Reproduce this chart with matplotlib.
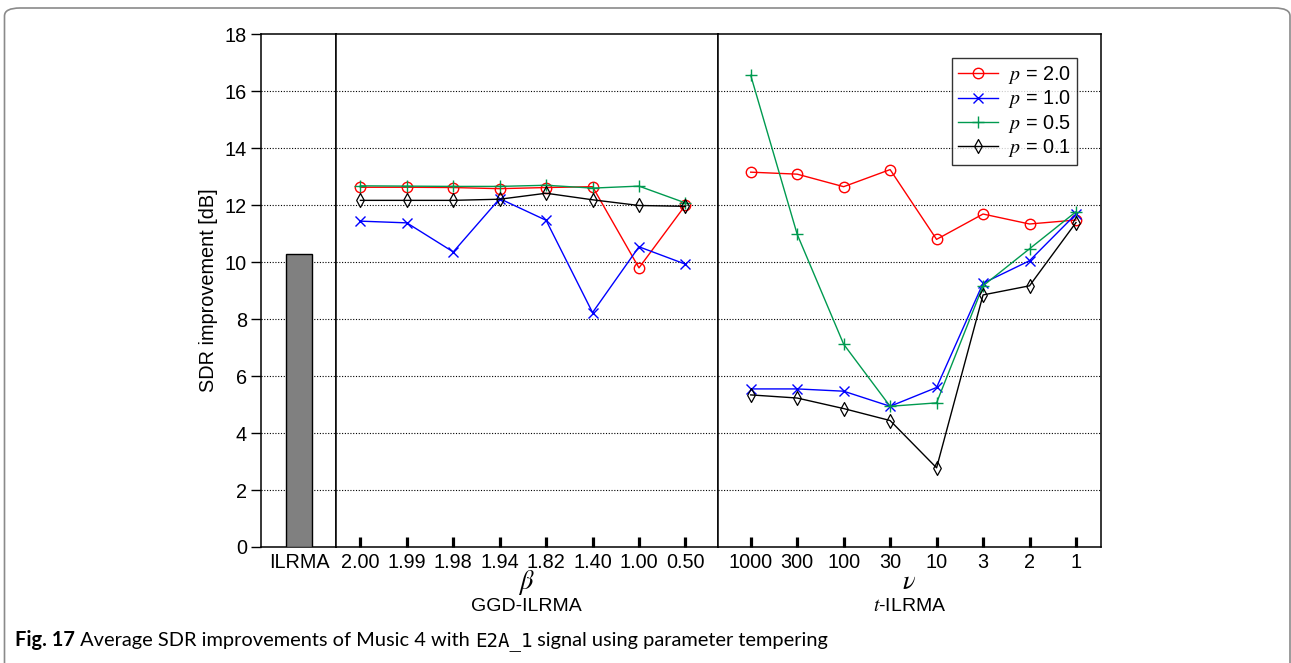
import matplotlib
matplotlib.use("Agg")
import matplotlib.pyplot as plt
from matplotlib.patches import FancyBboxPatch
from matplotlib.path import Path
import numpy as np

plt.rcParams["font.family"] = ["Liberation Sans", "DejaVu Sans"]
plt.rcParams["mathtext.fontset"] = "stix"

# ----------------------------- data -----------------------------
ilrma_label = "ILRMA"
ilrma_value = 10.3

beta_labels = ["2.00", "1.99", "1.98", "1.94", "1.82", "1.40", "1.00", "0.50"]
nu_labels = ["1000", "300", "100", "30", "10", "3", "2", "1"]

p_labels = ["2.0", "1.0", "0.5", "0.1"]

ggd_p20 = [12.63, 12.63, 12.62, 12.58, 12.62, 12.65, 9.80, 12.00]
ggd_p10 = [11.44, 11.38, 10.36, 12.23, 11.47, 8.23, 10.54, 9.93]
ggd_p05 = [12.68, 12.67, 12.66, 12.66, 12.70, 12.60, 12.67, 12.08]
ggd_p01 = [12.17, 12.17, 12.17, 12.21, 12.42, 12.19, 11.99, 11.96]

t_p20 = [13.16, 13.09, 12.65, 13.25, 10.80, 11.69, 11.34, 11.48]
t_p10 = [5.55, 5.55, 5.47, 4.94, 5.60, 9.26, 10.05, 11.69]
t_p05 = [16.56, 10.98, 7.12, 4.94, 5.06, 9.17, 10.47, 11.77]
t_p01 = [5.34, 5.23, 4.86, 4.44, 2.78, 8.85, 9.17, 11.39]

# ----------------------------- styles -----------------------------
thin_diamond = Path([(0, 1), (0.55, 0), (0, -1), (-0.55, 0), (0, 1)],
                    [Path.MOVETO, Path.LINETO, Path.LINETO, Path.LINETO, Path.CLOSEPOLY])
styles = [
    dict(color="#ff0000", marker="o", ms=7.5, mfc="none"),
    dict(color="#0000ff", marker="x", ms=7.5, mew=1.0),
    dict(color="#009a50", marker="+", ms=8.5, mew=1.0),
    dict(color="#000000", marker=thin_diamond, ms=10, mfc="none", mew=0.9),
]

W, H = 1291, 663
fig = plt.figure(figsize=(W / 100, H / 100), dpi=100)

# pixel layout of the three panels
x0, x1, x2, x3 = 260.7, 335.5, 718.0, 1100.7
ytop, ybot = 34.3, 547.0
gs = fig.add_gridspec(1, 3, left=x0 / W, right=x3 / W, bottom=1 - ybot / H, top=1 - ytop / H,
                      width_ratios=[x1 - x0, x2 - x1, x3 - x2], wspace=0)
ax0 = fig.add_subplot(gs[0])
ax1 = fig.add_subplot(gs[1], sharey=ax0)
ax2 = fig.add_subplot(gs[2], sharey=ax0)

xs = np.arange(1, len(beta_labels) + 1)

ax0.bar([0.512], [ilrma_value], width=0.345, color="#808080", edgecolor="black", lw=1.0, zorder=3)
ax0.set_xlim(0, 1)
ax0.set_xticks([0.512])
ax0.set_xticklabels([ilrma_label])

for vals, st, pl in zip([ggd_p20, ggd_p10, ggd_p05, ggd_p01], styles, p_labels):
    ax1.plot(xs, vals, lw=1.0, label=f"$p$ = {pl}", zorder=3, **st)
ax1.set_xlim(0.464, 8.702)
ax1.set_xticks(xs)
ax1.set_xticklabels(beta_labels)

lines = []
for vals, st, pl in zip([t_p20, t_p10, t_p05, t_p01], styles, p_labels):
    ln, = ax2.plot(xs, vals, lw=1.0, label=f"$p$ = {pl}", zorder=3, **st)
    lines.append(ln)
ax2.set_xlim(0.296, 8.532)
ax2.set_xticks(xs)
ax2.set_xticklabels(nu_labels)

ax0.set_ylim(0, 18)
ax0.set_yticks(np.arange(0, 19, 2))
ax0.set_ylabel("SDR improvement [dB]", fontsize=14.3, labelpad=5)

for ax in (ax0, ax1, ax2):
    for s in ax.spines.values():
        s.set_linewidth(1.1)
        s.set_color("black")
    for yv in range(2, 18, 2):
        ax.axhline(yv, color="black", lw=0.8, ls=(0, (1, 1.5)), zorder=1)
    ax.tick_params(axis="x", direction="in", length=7.5, width=2.3, labelsize=14.3, pad=4,
                   top=False)
    ax.tick_params(axis="y", right=False)
ax0.tick_params(axis="x", length=0, pad=4)
ax0.tick_params(axis="y", direction="out", length=7, width=1.0, labelsize=14.3, pad=3)
for ax in (ax1, ax2):
    ax.tick_params(axis="y", left=False, labelleft=False)

# sub labels below the tick labels
ax1.text(0.5, -0.069, r"$\beta$", transform=ax1.transAxes, ha="center", va="center", fontsize=19)
ax1.text(0.5, -0.116, "GGD-ILRMA", transform=ax1.transAxes, ha="center", va="center", fontsize=14)
ax2.text(0.5, -0.069, r"$\nu$", transform=ax2.transAxes, ha="center", va="center", fontsize=19)
ax2.text(0.5, -0.116, r"$t$-ILRMA", transform=ax2.transAxes, ha="center", va="center", fontsize=14)

leg = ax2.legend(handles=lines, loc="upper right", fontsize=14.3, frameon=True, fancybox=False,
                 edgecolor="black", borderaxespad=1.2, handlelength=2.0, handletextpad=0.5,
                 labelspacing=0.12, borderpad=0.3)
leg.get_frame().set_linewidth(1.0)
leg.set_zorder(5)

# rounded frame around the figure
frame = FancyBboxPatch((4.5 / W, -0.1), (1290 - 4.5) / W, 1 - 8 / H + 0.1,
                       boxstyle="round,pad=0,rounding_size=0.012",
                       transform=fig.transFigure, fill=False, edgecolor="#8a8a8a", lw=1.2)
fig.patches.append(frame)

# caption built from pieces with different fonts
fig.canvas.draw()
renderer = fig.canvas.get_renderer()
pieces = [
    ("Fig. 17", dict(family="Lato", weight="bold", fontsize=14.4)),
    (" Average SDR improvements of Music 4 with ", dict(family="Lato", fontsize=14.4)),
    ("E2A_1", dict(family="DejaVu Sans Mono", fontsize=13.8)),
    (" signal using parameter tempering", dict(family="Lato", fontsize=14.4)),
]
xpos = 15
for txt, kw in pieces:
    t = fig.text(xpos / W, 1 - 646 / H, txt, ha="left", va="baseline", **kw)
    bb = t.get_window_extent(renderer)
    xpos += bb.width

fig.savefig("out.png", dpi=100)
